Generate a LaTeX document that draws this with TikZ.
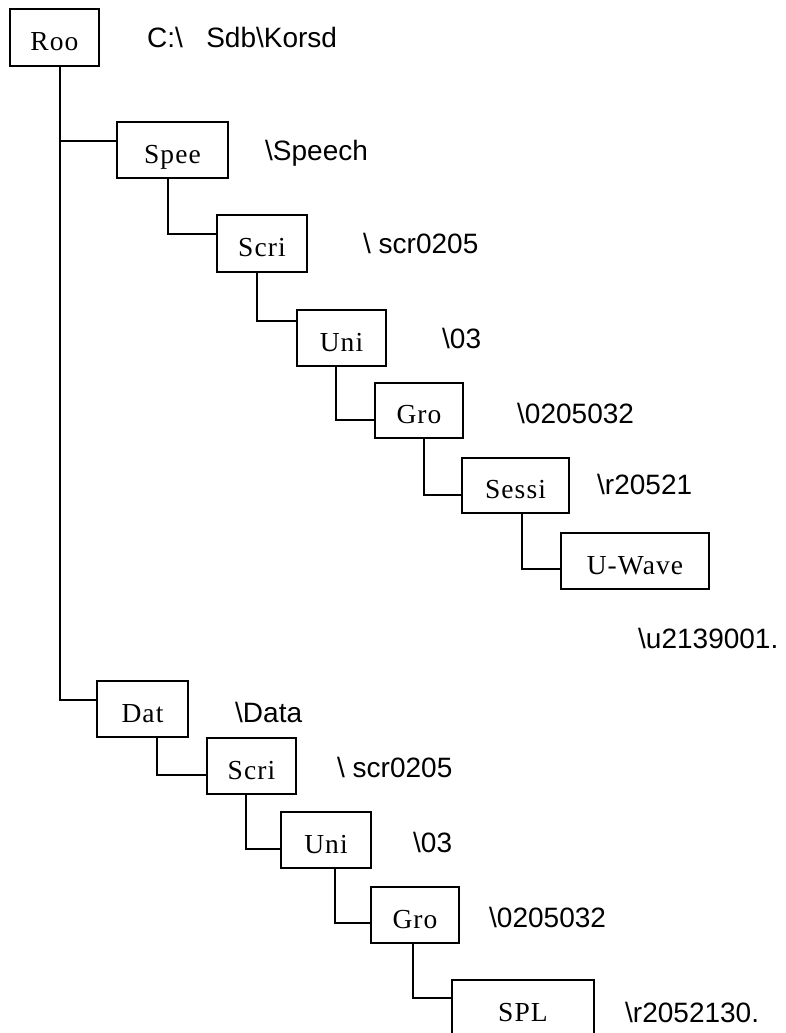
\documentclass[tikz,border=0pt]{standalone}
\usepackage{fontspec}
\setsansfont{Liberation Sans}
\newfontfamily\boxfont[LetterSpace=4]{Liberation Serif}
\usetikzlibrary{positioning}
\begin{document}
\begin{tikzpicture}[x=1pt,y=-1pt,
  bx/.style={draw=black, line width=2pt, inner sep=0pt, minimum height=56pt,
     text height=26pt, text depth=0pt,
     font=\boxfont\fontsize{27.5}{30}\selectfont},
  lbl/.style={anchor=base west, inner sep=0pt, font=\sffamily\fontsize{28}{32}\selectfont},
  conn/.style={draw=black, line width=2pt}]
\fill[white] (0,0) rectangle (786,1033);
\useasboundingbox (0,0) rectangle (786,1033);
% boxes
\node[bx, minimum width=89pt, minimum height=57pt] (Roo) at (54.5,37.5) {Roo};
\node[bx, minimum width=111pt] (Spee) at (172.5,150) {Spee};
\node[bx, minimum width=90pt, minimum height=57pt] (Scri) at (262,243.5) {Scri};
\node[bx, minimum width=89pt] (Uni) at (341.5,338) {Uni};
\node[bx, minimum width=88pt, minimum height=55pt] (Gro) at (419,410.5) {Gro};
\node[bx, minimum width=107pt, minimum height=55pt] (Sessi) at (515.5,485.5) {Sessi};
\node[bx, minimum width=148pt] (UW) at (635,561) {U-Wave};
\node[bx, minimum width=91pt] (Dat) at (142.5,709) {Dat};
\node[bx, minimum width=89pt] (ScriB) at (251.5,766) {Scri};
\node[bx, minimum width=90pt] (UniB) at (326,840) {Uni};
\node[bx, minimum width=88pt] (GroB) at (415,915) {Gro};
\node[bx, minimum width=142pt] (SPL) at (523,1008) {SPL};
% labels
\node[lbl] (lRoo) at (147,48) {C:\textbackslash\ \ \ Sdb\textbackslash Korsd};
\node[lbl] (lSpee) at (265,160) {\textbackslash Speech};
\node[lbl] (lScri) at (363,253) {\textbackslash\ scr0205};
\node[lbl] (lUni) at (442,348) {\textbackslash 03};
\node[lbl] (lGro) at (517,423) {\textbackslash 0205032};
\node[lbl] (lSessi) at (597,494) {\textbackslash r20521};
\node[lbl] (lUW) at (638,648) {\textbackslash u2139001.};
\node[lbl] (lDat) at (235,722) {\textbackslash Data};
\node[lbl] (lScriB) at (337,777) {\textbackslash\ scr0205};
\node[lbl] (lUniB) at (413,852) {\textbackslash 03};
\node[lbl] (lGroB) at (489,927) {\textbackslash 0205032};
\node[lbl] (lSPL) at (625,1022) {\textbackslash r2052130.};
% connectors
\coordinate (trunk) at ([xshift=5pt]Roo.south);
\draw[conn] (trunk) |- ([yshift=9pt]Spee.west);
\draw[conn] (trunk) |- ([yshift=9pt]Dat.west);
\draw[conn] ([xshift=-4.5pt]Spee.south) |- ([yshift=10pt]Scri.west);
\draw[conn] ([xshift=-5pt]Scri.south) |- ([yshift=17pt]Uni.west);
\draw[conn] ([xshift=-5.5pt]Uni.south) |- ([yshift=-9.5pt]Gro.west);
\draw[conn] ([xshift=5pt]Gro.south) |- ([yshift=-9.5pt]Sessi.west);
\draw[conn] ([xshift=6.5pt]Sessi.south) |- ([yshift=-8pt]UW.west);
\draw[conn] ([xshift=14.5pt]Dat.south) |- ([yshift=-9pt]ScriB.west);
\draw[conn] ([xshift=-5.5pt]ScriB.south) |- ([yshift=-9pt]UniB.west);
\draw[conn] ([xshift=9pt]UniB.south) |- ([yshift=-8pt]GroB.west);
\draw[conn] ([xshift=-2pt]GroB.south) |- ([yshift=10pt]SPL.west);
\end{tikzpicture}
\end{document}
